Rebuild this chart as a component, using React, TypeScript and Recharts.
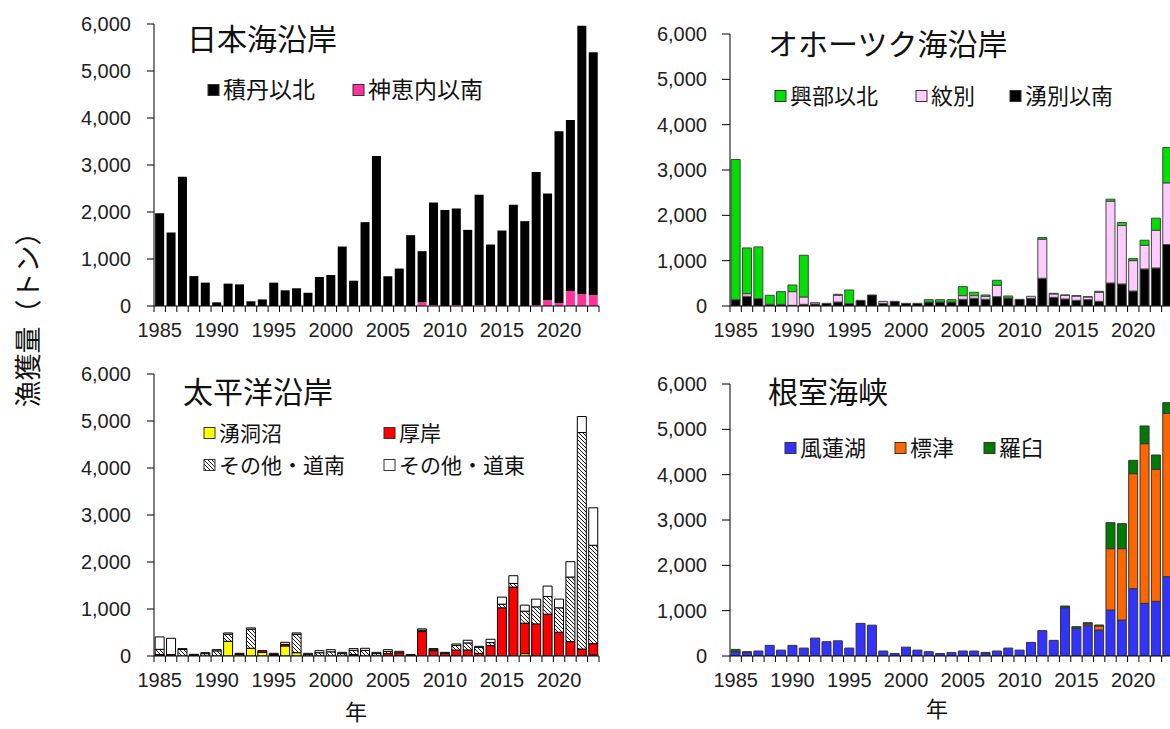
import React from 'react'
import { Bar, BarChart, XAxis, YAxis } from 'recharts'

const years = [
  1985, 1986, 1987, 1988, 1989, 1990, 1991, 1992, 1993, 1994,
  1995, 1996, 1997, 1998, 1999, 2000, 2001, 2002, 2003, 2004,
  2005, 2006, 2007, 2008, 2009, 2010, 2011, 2012, 2013, 2014,
  2015, 2016, 2017, 2018, 2019, 2020, 2021, 2022, 2023,
]
const yTicks = [0, 1000, 2000, 3000, 4000, 5000, 6000]

// 日本海沿岸
const shakotanNorth = [
  1976, 1564, 2750, 636, 497, 78, 476, 460, 100, 140,
  497, 334, 377, 282, 618, 658, 1265, 538, 1784, 3191,
  633, 796, 1507, 1088, 2183, 2040, 2055, 1620, 2354, 1308,
  1606, 2153, 1805, 2830, 2274, 3653, 3639, 5714, 5174,
]
const kamoenaiSouth = [
  0, 0, 0, 0, 0, 0, 0, 0, 0, 0,
  0, 0, 0, 0, 0, 0, 0, 0, 0, 0,
  0, 0, 0, 78, 20, 0, 20, 0, 15, 0,
  0, 0, 0, 20, 121, 64, 320, 249, 227,
]

// オホーツク海沿岸
const yubetsuSouth = [
  140, 214, 162, 37, 37, 15, 37, 44, 59, 88,
  52, 125, 243, 59, 103, 59, 59, 88, 88, 88,
  147, 169, 147, 206, 177, 147, 169, 611, 191, 155,
  125, 140, 103, 508, 486, 331, 817, 839, 1355,
]
const monbetsu = [
  0, 58, 0, 0, 0, 302, 162, 30, 0, 148,
  0, 0, 0, 44, 0, 0, 0, 0, 0, 0,
  81, 59, 67, 251, 0, 0, 45, 862, 75, 80,
  95, 60, 199, 1804, 1289, 670, 523, 833, 1362,
]
const okoppeNorth = [
  3092, 1009, 1141, 199, 280, 147, 920, 0, 0, 22,
  301, 0, 0, 0, 0, 0, 0, 52, 52, 52,
  199, 74, 29, 110, 44, 0, 0, 37, 14, 8,
  8, 6, 22, 44, 66, 45, 111, 265, 781,
]

// 太平洋沿岸
const yutoNuma = [
  0, 0, 0, 0, 0, 0, 313, 30, 164, 78,
  0, 214, 71, 0, 0, 0, 0, 0, 0, 0,
  0, 0, 0, 0, 0, 0, 0, 0, 0, 0,
  0, 0, 50, 0, 0, 0, 0, 0, 20,
]
const akkeshi = [
  30, 30, 0, 20, 0, 0, 0, 27, 0, 36,
  30, 35, 0, 0, 0, 0, 0, 30, 0, 0,
  57, 70, 30, 520, 114, 57, 128, 128, 57, 221,
  1025, 1466, 648, 683, 890, 505, 306, 149, 243,
]
const otherDonan = [
  112, 0, 140, 16, 50, 110, 150, 0, 406, 0,
  27, 0, 392, 30, 70, 90, 50, 90, 120, 50,
  40, 0, 0, 30, 20, 0, 100, 150, 128, 64,
  78, 78, 256, 363, 377, 520, 1374, 4605, 2093,
]
const otherDoto = [
  264, 347, 17, 0, 21, 25, 28, 0, 28, 0,
  0, 43, 28, 27, 44, 45, 28, 37, 44, 28,
  38, 30, 0, 27, 23, 21, 28, 57, 21, 71,
  150, 164, 128, 164, 221, 185, 327, 342, 797,
]

// 根室海峡
const furenko = [
  96, 80, 110, 235, 130, 235, 175, 395, 315, 335,
  175, 720, 680, 110, 55, 195, 130, 95, 55, 75,
  110, 110, 65, 110, 175, 130, 300, 560, 345, 1066,
  610, 669, 574, 1015, 794, 1485, 1162, 1206, 1750,
]
const shibetsu = [
  0, 0, 0, 0, 0, 0, 0, 0, 0, 0,
  0, 0, 0, 0, 0, 0, 0, 0, 0, 0,
  0, 0, 0, 0, 0, 0, 0, 0, 0, 0,
  0, 37, 88, 1353, 1574, 2537, 3522, 2912, 3603,
]
const rausu = [
  50, 15, 0, 0, 0, 0, 0, 0, 0, 0,
  0, 0, 0, 0, 0, 0, 0, 0, 0, 0,
  0, 0, 15, 0, 0, 0, 0, 0, 0, 37,
  37, 29, 22, 573, 551, 294, 390, 316, 235,
]

const japanSeaData = years.map((year, i) => ({ year, kamoenai: kamoenaiSouth[i], shakotan: shakotanNorth[i] }))
const okhotskData = years.map((year, i) => ({ year, yubetsu: yubetsuSouth[i], monbetsu: monbetsu[i], okoppe: okoppeNorth[i] }))
const pacificData = years.map((year, i) => ({ year, yuto: yutoNuma[i], akkeshi: akkeshi[i], donan: otherDonan[i], doto: otherDoto[i] }))
const nemuroData = years.map((year, i) => ({ year, furen: furenko[i], shibetsu: shibetsu[i], rausu: rausu[i] }))

const numFont = '"Liberation Sans", Arial, sans-serif'
const jpFont = '"Noto Sans CJK JP", sans-serif'

const xTick = (bw: number) => (props: any) => {
  const { x, y, payload, index } = props
  const last = index === years.length - 1
  return (
    <g>
      <line x1={x - bw / 2} x2={x - bw / 2} y1={y} y2={y + 6} stroke="#000" />
      {last && <line x1={x + bw / 2} x2={x + bw / 2} y1={y} y2={y + 6} stroke="#000" />}
      {payload.value % 5 === 0 && (
        <text x={x} y={y + 31} textAnchor="middle" fontSize={20} fontFamily={numFont} fill="#222">
          {payload.value}
        </text>
      )}
    </g>
  )
}

type Series = { key: string; fill: string }

const Panel = ({ data, series, left, top, width, axisW, mTop, mRight, tickSize, tickMargin, stroke }: any) => {
  const height = 340
  const bw = (width - axisW - mRight) / years.length
  return (
    <div style={{ position: 'absolute', left, top }}>
      <BarChart width={width} height={height} data={data} barCategoryGap="10%"
        margin={{ top: mTop, right: mRight, left: 0, bottom: 0 }}>
        <XAxis dataKey="year" interval={0} height={34} tickSize={0} tickMargin={0} tickLine={false}
          axisLine={{ stroke: '#000' }} tick={xTick(bw)} />
        <YAxis width={axisW} domain={[0, 6000]} ticks={yTicks} interval={0} allowDataOverflow
          tickSize={tickSize} tickMargin={tickMargin} axisLine={{ stroke: '#000' }} tickLine={{ stroke: '#000' }}
          tickFormatter={(v: number) => v.toLocaleString('en-US')}
          tick={{ fill: '#222', fontSize: 20, fontFamily: numFont }} />
        {series.map((s: Series) => (
          <Bar key={s.key} dataKey={s.key} stackId="a" fill={s.fill} stroke={stroke}
            strokeWidth={stroke === 'none' ? 0 : 1} isAnimationActive={false} />
        ))}
      </BarChart>
    </div>
  )
}

const LegendItem = ({ x, y, fill, label, size = 22 }: any) => (
  <g>
    <rect x={x} y={y - 5.5} width={11} height={11} fill={fill} stroke="#333" strokeWidth={1} />
    <text x={x + 15} y={y + 8} fontSize={size} fontFamily={jpFont} fill="#111">{label}</text>
  </g>
)

const App = () => {
  return (
    <div style={{ position: 'absolute', left: 0, top: 0, width: 1170, height: 729, overflow: 'hidden', background: '#fff' }}>
      <svg width={0} height={0} style={{ position: 'absolute' }}>
        <defs>
          <pattern id="hatch" patternUnits="userSpaceOnUse" width={4} height={4}>
            <rect width={4} height={4} fill="#fff" />
            <path d="M0,0 L4,4 M-1,3 L1,5 M3,-1 L5,1" stroke="#000" strokeWidth={0.9} />
          </pattern>
        </defs>
      </svg>

      <Panel data={japanSeaData} left={0} top={0} width={620} axisW={154} mTop={24} mRight={21}
        tickSize={7} tickMargin={16} stroke="none"
        series={[{ key: 'kamoenai', fill: '#ff3399' }, { key: 'shakotan', fill: '#000000' }]} />
      <Panel data={okhotskData} left={600} top={0} width={600} axisW={130} mTop={34} mRight={27}
        tickSize={8} tickMargin={15} stroke="#444"
        series={[{ key: 'yubetsu', fill: '#000000' }, { key: 'monbetsu', fill: '#ffccff' }, { key: 'okoppe', fill: '#00e000' }]} />
      <Panel data={pacificData} left={0} top={350} width={620} axisW={154} mTop={24} mRight={21}
        tickSize={7} tickMargin={16} stroke="#000"
        series={[{ key: 'yuto', fill: '#ffff00' }, { key: 'akkeshi', fill: '#ff0000' }, { key: 'donan', fill: 'url(#hatch)' }, { key: 'doto', fill: '#ffffff' }]} />
      <Panel data={nemuroData} left={600} top={350} width={600} axisW={130} mTop={34} mRight={27}
        tickSize={8} tickMargin={15} stroke="#333"
        series={[{ key: 'furen', fill: '#3333ff' }, { key: 'shibetsu', fill: '#ff6600' }, { key: 'rausu', fill: '#007a00' }]} />

      <svg width={1170} height={729} style={{ position: 'absolute', left: 0, top: 0, pointerEvents: 'none' }}>
        <text x={187} y={50} fontSize={30} fontFamily={jpFont} fill="#111">日本海沿岸</text>
        <text x={768} y={55} fontSize={30} fontFamily={jpFont} fill="#111">オホーツク海沿岸</text>
        <text x={183} y={403} fontSize={30} fontFamily={jpFont} fill="#111">太平洋沿岸</text>
        <text x={768} y={403} fontSize={30} fontFamily={jpFont} fill="#111">根室海峡</text>

        <LegendItem x={208} y={90} fill="#000000" label="積丹以北" size={23} />
        <LegendItem x={353} y={90} fill="#ff3399" label="神恵内以南" size={23} />

        <LegendItem x={775} y={96} fill="#00e000" label="興部以北" />
        <LegendItem x={916} y={96} fill="#ffccff" label="紋別" />
        <LegendItem x={1010} y={96} fill="#000000" label="湧別以南" />

        <LegendItem x={204} y={433} fill="#ffff00" label="湧洞沼" size={21} />
        <LegendItem x={384} y={433} fill="#ff0000" label="厚岸" size={21} />
        <LegendItem x={204} y={465} fill="url(#hatch)" label="その他・道南" size={21} />
        <LegendItem x={384} y={465} fill="#ffffff" label="その他・道東" size={21} />

        <LegendItem x={785} y={448} fill="#3333ff" label="風蓮湖" />
        <LegendItem x={895} y={448} fill="#ff6600" label="標津" />
        <LegendItem x={984} y={448} fill="#007a00" label="羅臼" />

        <text x={26} y={313} transform="rotate(-90 26 313)" textAnchor="middle" dominantBaseline="central"
          fontSize={27} fontFamily={jpFont} fill="#111">漁獲量（トン）</text>
        <text x={356} y={720} textAnchor="middle" fontSize={22} fontFamily={jpFont} fill="#111">年</text>
        <text x={937} y={717} textAnchor="middle" fontSize={22} fontFamily={jpFont} fill="#111">年</text>
      </svg>
    </div>
  )
}

export default App
